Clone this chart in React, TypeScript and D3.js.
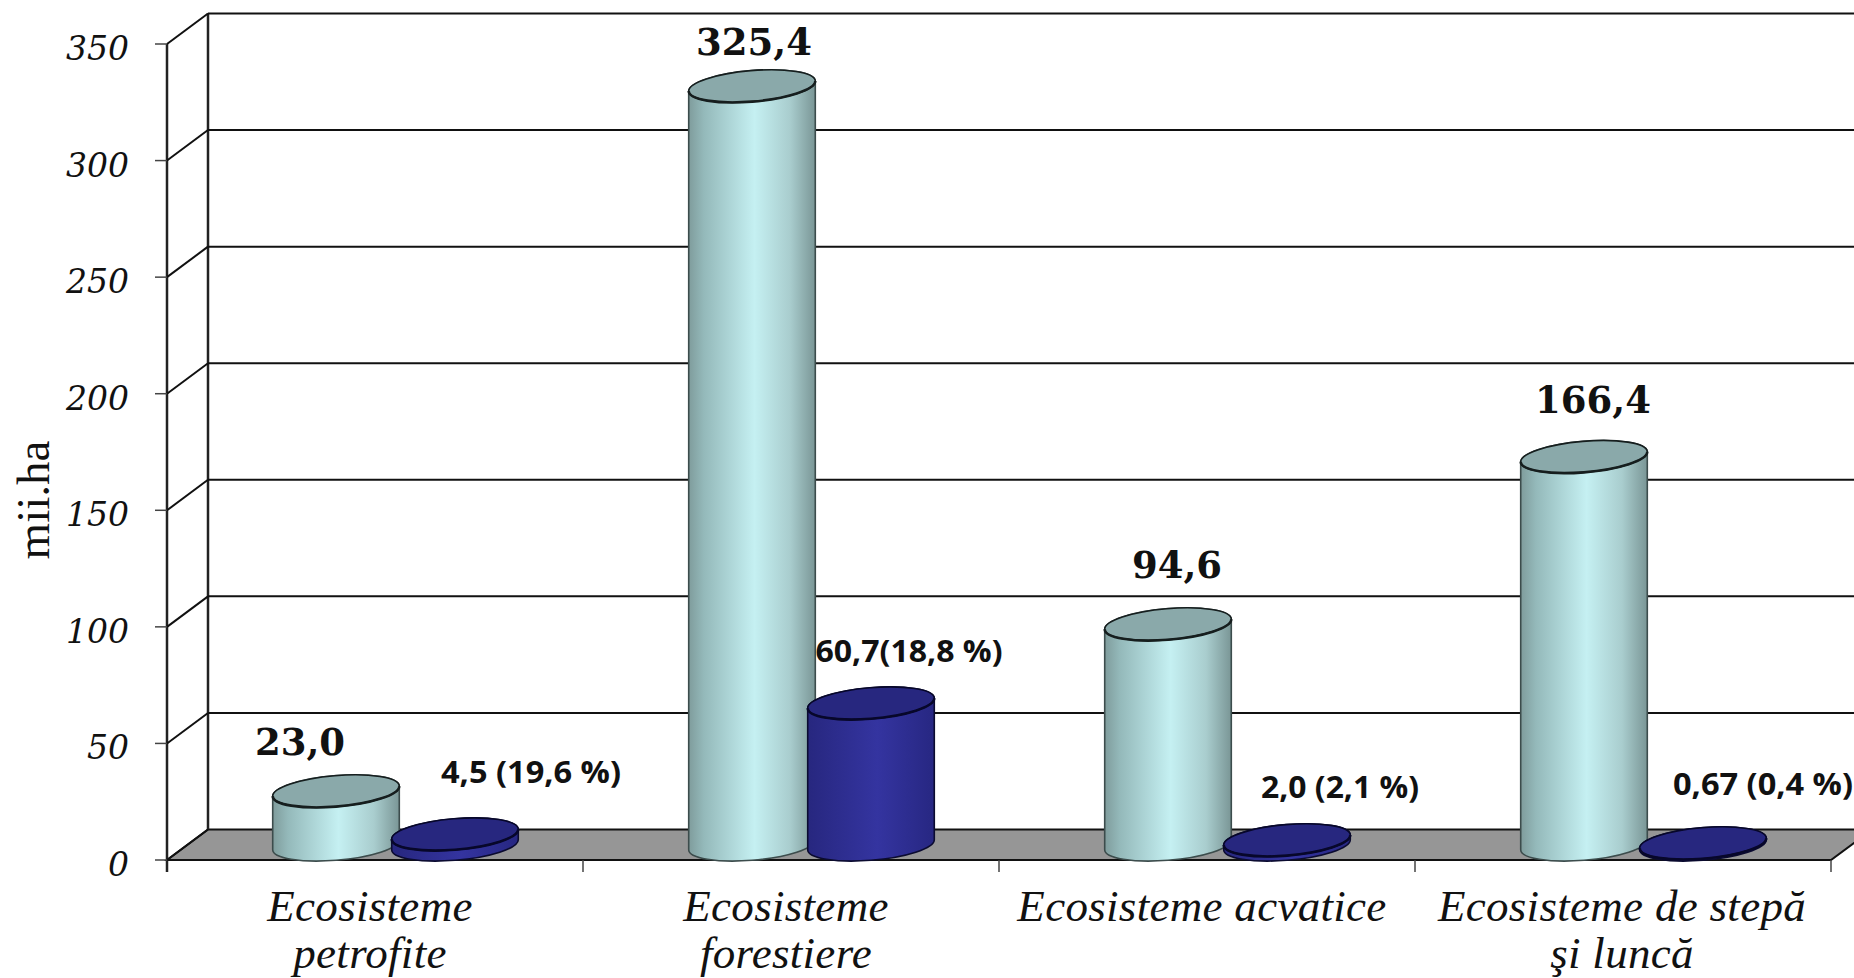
import React from "react";
import * as d3 from "d3";

const categories = ["Ecosisteme petrofite", "Ecosisteme forestiere", "Ecosisteme acvatice", "Ecosisteme de stepă şi luncă"];
const categoryLines = [["Ecosisteme", "petrofite"], ["Ecosisteme", "forestiere"], ["Ecosisteme acvatice"], ["Ecosisteme de stepă", "şi luncă"]];
const totalValues = [23.0, 325.4, 94.6, 166.4];
const protectedValues = [4.5, 60.7, 2.0, 0.67];
const totalLabels = ["23,0", "325,4", "94,6", "166,4"];
const protectedLabels = ["4,5 (19,6 %)", "60,7(18,8 %)", "2,0 (2,1 %)", "0,67 (0,4 %)"];
const yTicks = [0, 50, 100, 150, 200, 250, 300, 350];

// layout (label placement was done by hand in the original chart)
const W = 1854, H = 978;
const X0 = 167, X1 = 1831, Y0 = 860, Y1 = 44;
const DX = 41, DY = -30.5;
const RX = 63.5, RY = 15.5, ROT = -4.8, GAP = 59.5;
const totalLabelPos = [[300, 755], [754, 55], [1177, 578], [1593, 413]];
const protectedLabelPos = [[531, 783, 180], [909, 662, 187], [1340, 798, 158], [1763, 795, 180]];
const categoryLabelDx = [-5, -5, -5, -1];

const x = d3.scaleBand<string>().domain(categories).range([X0, X1]);
const y = d3.scaleLinear().domain([0, 350]).range([Y0, Y1]);

function tangent() {
  const th = (ROT * Math.PI) / 180;
  const t = Math.atan2(-RY * Math.sin(th), RX * Math.cos(th));
  return {
    dx: RX * Math.cos(t) * Math.cos(th) - RY * Math.sin(t) * Math.sin(th),
    dy: RX * Math.cos(t) * Math.sin(th) + RY * Math.sin(t) * Math.cos(th),
  };
}

function Cylinder({ cx, value, side, top, stroke, edge }: { cx: number; value: number; side: string; top: string; stroke: string; edge: string }) {
  const { dx, dy } = tangent();
  const baseY = Y0 + DY / 2;
  const topY = baseY - (Y0 - y(value));
  const d =
    `M${cx - dx},${topY - dy}L${cx - dx},${baseY - dy}` +
    `A${RX},${RY} ${ROT} 0 0 ${cx + dx},${baseY + dy}` +
    `L${cx + dx},${topY + dy}` +
    `A${RX},${RY} ${ROT} 0 0 ${cx - dx},${topY - dy}Z`;
  const front = `M${cx - dx},${topY - dy}A${RX},${RY} ${ROT} 0 0 ${cx + dx},${topY + dy}`;
  return (
    <g>
      <path d={d} fill={side} stroke={edge} strokeWidth={1.6} />
      <ellipse cx={0} cy={0} rx={RX} ry={RY} transform={`translate(${cx},${topY}) rotate(${ROT})`} fill={top} stroke={stroke} strokeWidth={1.6} />
      <path d={front} fill="none" stroke={stroke} strokeWidth={2.6} />
    </g>
  );
}

export default function App() {
  const serif = "'Liberation Serif', serif";
  return (
    <svg width={W} height={H} viewBox={`0 0 ${W} ${H}`} style={{ position: "absolute", left: 0, top: 0, background: "#fff" }}>
      <defs>
        <linearGradient id="lightSide" x1="0" x2="1" y1="0" y2="0">
          <stop offset="0" stopColor="#7f9c9c" />
          <stop offset="0.12" stopColor="#94b9ba" />
          <stop offset="0.52" stopColor="#c5f0f2" />
          <stop offset="0.8" stopColor="#a9cdce" />
          <stop offset="1" stopColor="#7a9696" />
        </linearGradient>
        <linearGradient id="darkSide" x1="0" x2="1" y1="0" y2="0">
          <stop offset="0" stopColor="#27277f" />
          <stop offset="0.55" stopColor="#3434a0" />
          <stop offset="1" stopColor="#272782" />
        </linearGradient>
      </defs>

      {/* floor */}
      <polygon
        points={[[X0, Y0], [X0 + DX, Y0 + DY], [X1 + DX, Y0 + DY], [X1, Y0]].map((q) => q.join(",")).join(" ")}
        fill="#969696"
        stroke="#111"
        strokeWidth={2}
      />

      {/* walls and grid */}
      <line x1={X0 + DX} x2={X0 + DX} y1={Y1 + DY} y2={Y0 + DY} stroke="#222" strokeWidth={2.5} />
      <line x1={X0} x2={X0} y1={Y1} y2={Y0 + 12} stroke="#222" strokeWidth={2.5} />
      {yTicks.map((t) => (
        <g key={t}>
          <line x1={X0} y1={y(t)} x2={X0 + DX} y2={y(t) + DY} stroke="#111" strokeWidth={2} />
          {t > 0 && <line x1={X0 + DX} y1={y(t) + DY} x2={W} y2={y(t) + DY} stroke="#111" strokeWidth={2} />}
          <line x1={X0 - 12} x2={X0} y1={y(t)} y2={y(t)} stroke="#444" strokeWidth={1.5} />
          <text x={129} y={y(t) + 16} textAnchor="end" fontFamily="'DejaVu Serif', serif" fontStyle="italic" fontSize={33} fill="#111">
            {t}
          </text>
        </g>
      ))}

      {/* category ticks */}
      {categories.map((c) => (
        <line key={c} x1={x(c)! + x.bandwidth()} x2={x(c)! + x.bandwidth()} y1={Y0} y2={Y0 + 12} stroke="#444" strokeWidth={1.5} />
      ))}

      {/* cylinders */}
      {categories.map((c, i) => {
        const center = x(c)! + x.bandwidth() / 2 + DX / 2;
        return (
          <g key={c}>
            <Cylinder cx={center - GAP} value={totalValues[i]} side="url(#lightSide)" top="#8aa9aa" stroke="#161e1e" edge="#3c4c4c" />
            <Cylinder cx={center + GAP} value={protectedValues[i]} side="url(#darkSide)" top="#27277f" stroke="#07072a" edge="#0b0b30" />
          </g>
        );
      })}

      {/* value labels */}
      {totalLabels.map((l, i) => (
        <text key={l} x={totalLabelPos[i][0]} y={totalLabelPos[i][1]} textAnchor="middle" fontFamily="'DejaVu Serif', serif" fontWeight="bold" fontSize={37} fill="#111">
          {l}
        </text>
      ))}
      {protectedLabels.map((l, i) => (
        <text
          key={l}
          x={protectedLabelPos[i][0]}
          y={protectedLabelPos[i][1]}
          textAnchor="middle"
          fontFamily="'Open Sans', sans-serif"
          fontWeight="bold"
          fontSize={31}
          textLength={protectedLabelPos[i][2]}
          lengthAdjust="spacingAndGlyphs"
          fill="#111"
        >
          {l}
        </text>
      ))}

      {/* category labels */}
      {categories.map((c, i) => (
        <text key={c} textAnchor="middle" fontFamily={serif} fontStyle="italic" fontSize={45} letterSpacing={0.3} fill="#111">
          {categoryLines[i].map((line, j) => (
            <tspan key={line} x={x(c)! + x.bandwidth() / 2 + categoryLabelDx[i]} y={921 + j * 47}>
              {line}
            </tspan>
          ))}
        </text>
      ))}

      {/* axis title */}
      <text transform="translate(49,500) rotate(-90)" textAnchor="middle" fontFamily={serif} fontSize={47} fill="#111">
        mii.ha
      </text>
    </svg>
  );
}
